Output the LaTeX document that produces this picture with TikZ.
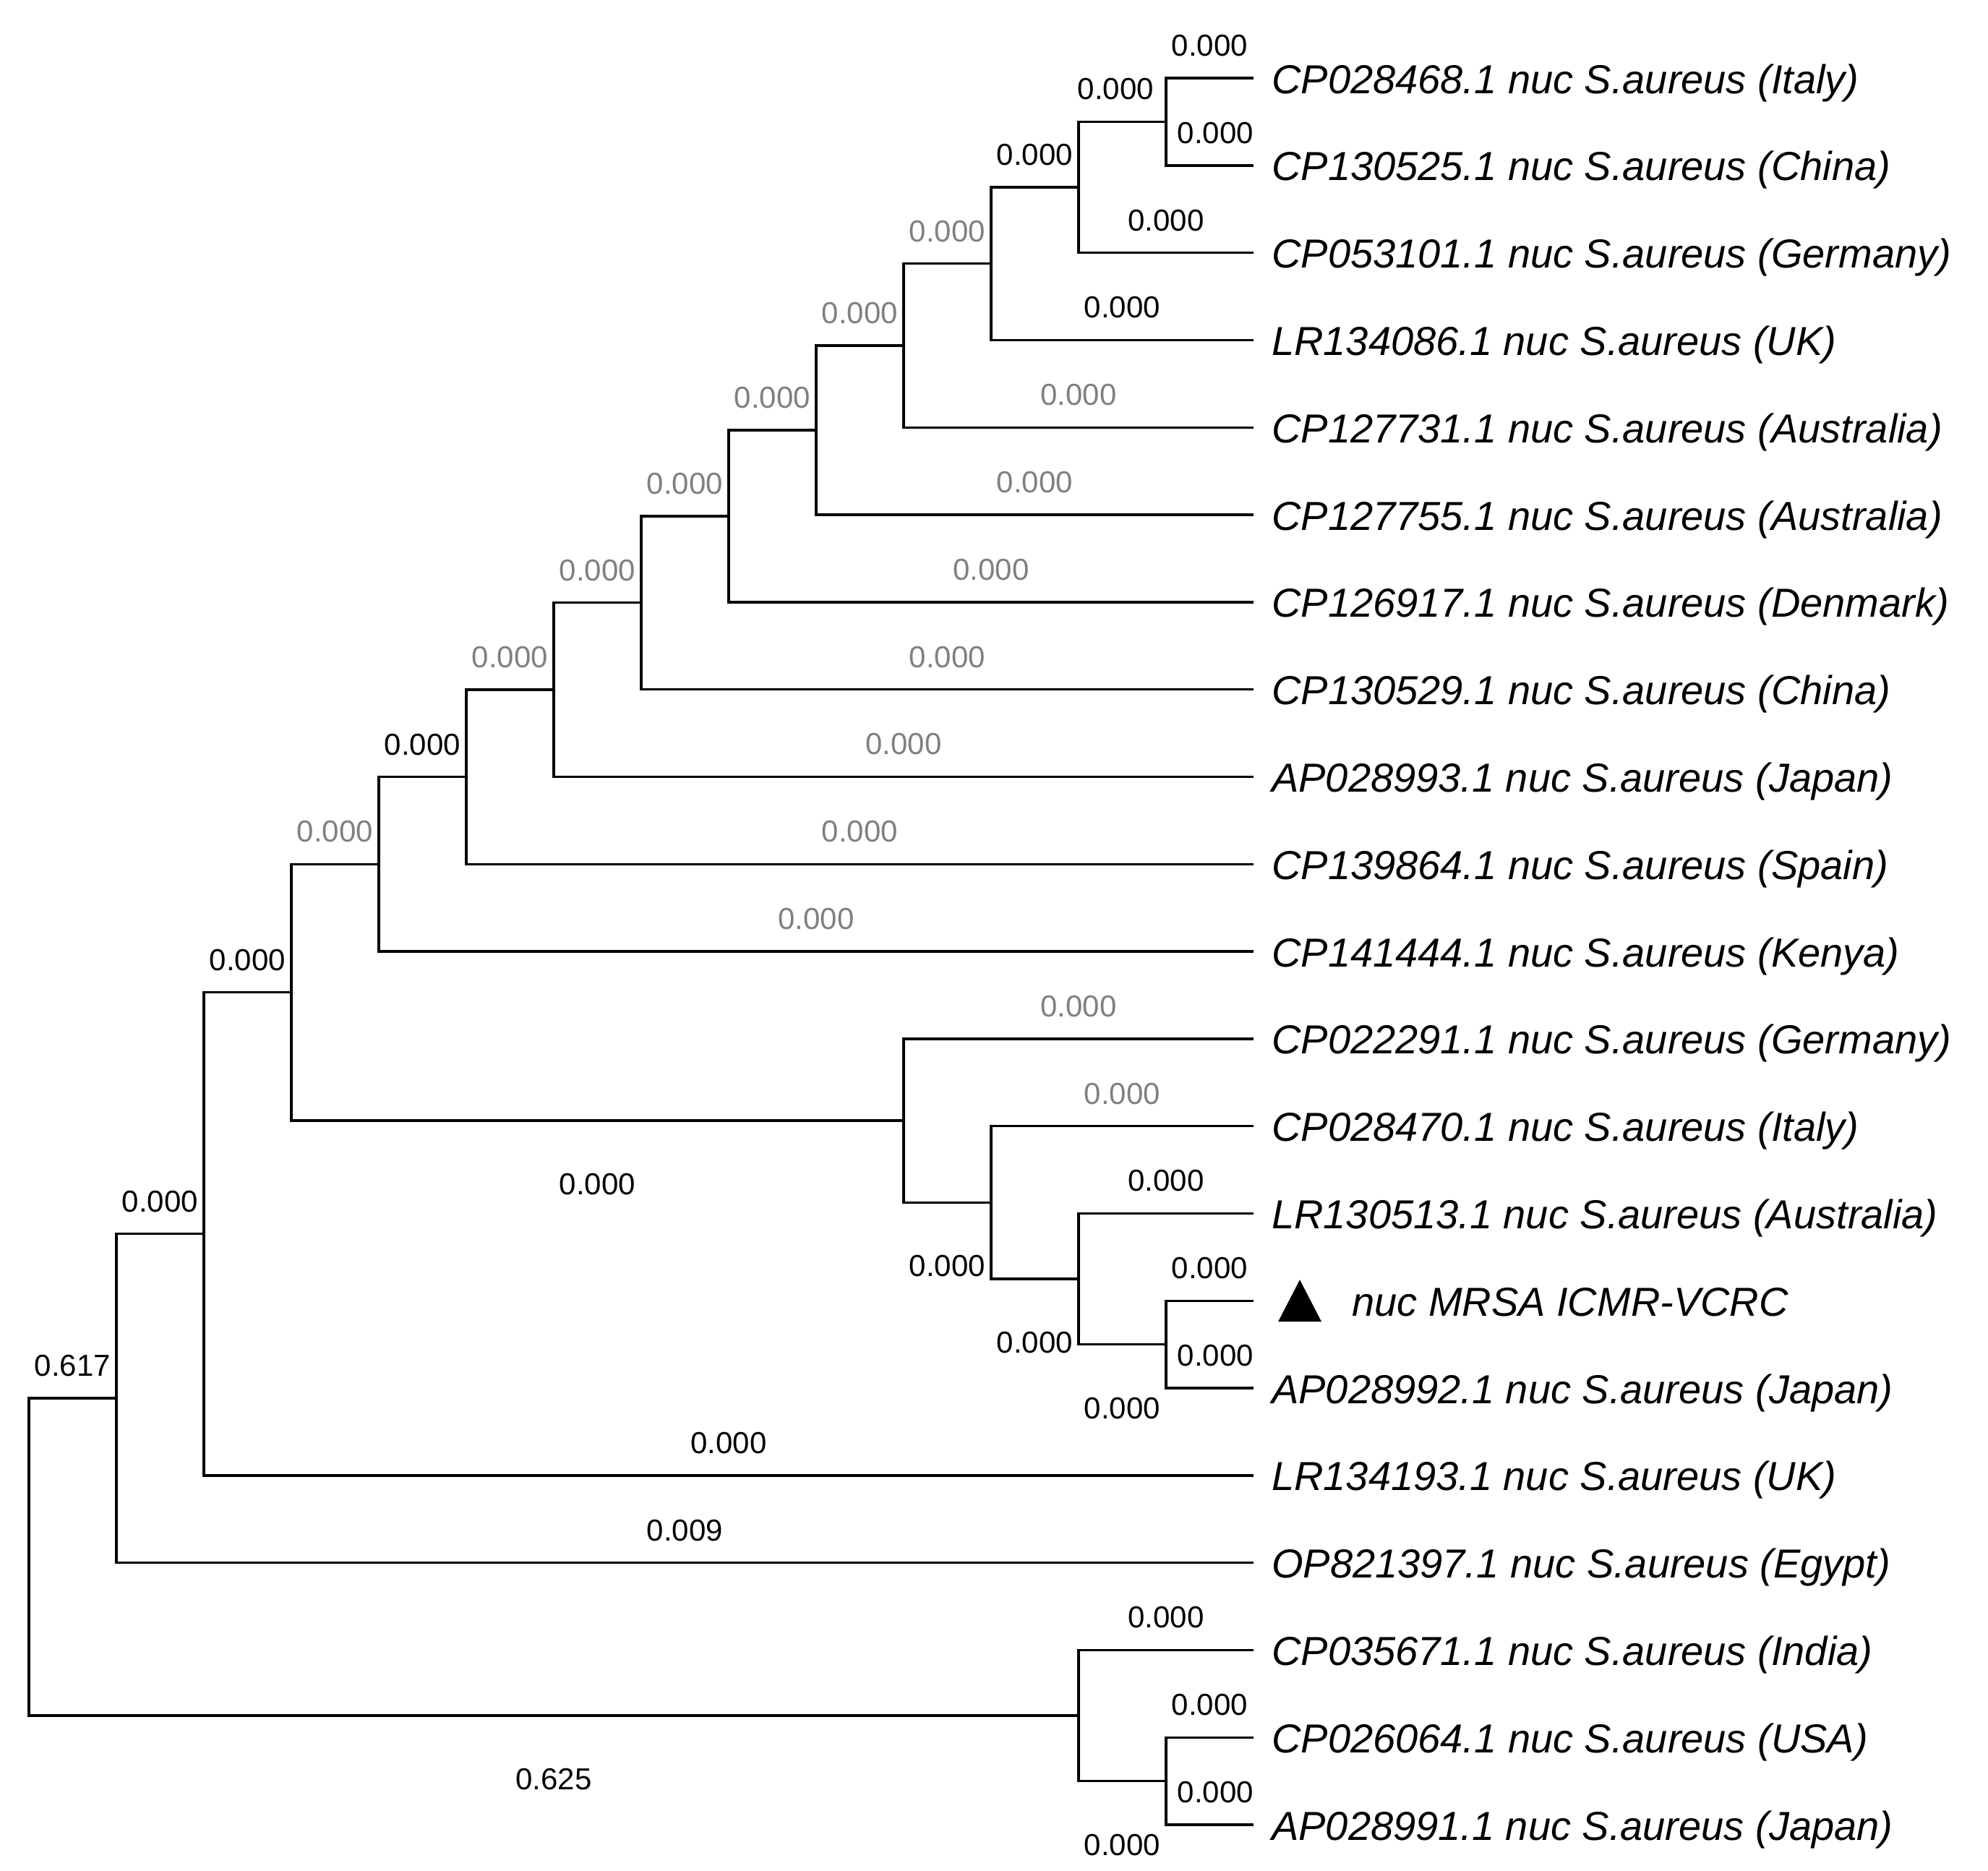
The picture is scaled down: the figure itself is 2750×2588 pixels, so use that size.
\documentclass[tikz,border=0pt]{standalone}
\usepackage{fontspec}
\setmainfont{Liberation Sans}
\usetikzlibrary{calc}
\definecolor{lgray}{RGB}{128,128,128}
\begin{document}
\begin{tikzpicture}[x=1pt,y=-1pt,
  br/.style={line width=3.4pt},
  leaf/.style={anchor=base west, inner sep=0pt, font=\fontsize{56}{60}\selectfont\itshape, xshift=25pt, yshift=-21pt},
  blab/.style={pos=0.75, inner sep=0pt, font=\fontsize{42}{44}\selectfont, text=black},
  labup/.style={blab, yshift=45pt},
  labdn/.style={blab, yshift=-88pt},
  gr/.style={text=lgray}]
\useasboundingbox (0,0) rectangle (2750,2588);
% leaf ends
\foreach \i in {0,...,20} \coordinate (e\i) at (1734,{108+120.8*\i});
% internal nodes
\coordinate (O) at (1613,168.4);
\coordinate (N) at (1492,259);
\coordinate (M) at (1371,364.7);
\coordinate (L) at (1250,477.95);
\coordinate (K) at (1129,594.98);
\coordinate (J) at (1008,713.89);
\coordinate (I) at (887,833.74);
\coordinate (H) at (766,954.07);
\coordinate (G) at (645,1074.64);
\coordinate (E) at (524,1195.32);
\coordinate (D) at (403,1372.69);
\coordinate (F) at (1250,1550.05);
\coordinate (P) at (1371,1663.3);
\coordinate (Q) at (1492,1769);
\coordinate (R) at (1613,1859.6);
\coordinate (C) at (282,1706.74);
\coordinate (A) at (161,1934.17);
\coordinate (S) at (1613,2463.6);
\coordinate (B) at (1492,2373);
\coordinate (root) at (40,2153.6);
% leaf labels
\node[leaf] (t0) at (e0) {CP028468.1 nuc S.aureus (Italy)};
\node[leaf] (t1) at (e1) {CP130525.1 nuc S.aureus (China)};
\node[leaf] (t2) at (e2) {CP053101.1 nuc S.aureus (Germany)};
\node[leaf] (t3) at (e3) {LR134086.1 nuc S.aureus (UK)};
\node[leaf] (t4) at (e4) {CP127731.1 nuc S.aureus (Australia)};
\node[leaf] (t5) at (e5) {CP127755.1 nuc S.aureus (Australia)};
\node[leaf] (t6) at (e6) {CP126917.1 nuc S.aureus (Denmark)};
\node[leaf] (t7) at (e7) {CP130529.1 nuc S.aureus (China)};
\node[leaf] (t8) at (e8) {AP028993.1 nuc S.aureus (Japan)};
\node[leaf] (t9) at (e9) {CP139864.1 nuc S.aureus (Spain)};
\node[leaf] (t10) at (e10) {CP141444.1 nuc S.aureus (Kenya)};
\node[leaf] (t11) at (e11) {CP022291.1 nuc S.aureus (Germany)};
\node[leaf] (t12) at (e12) {CP028470.1 nuc S.aureus (Italy)};
\node[leaf] (t13) at (e13) {LR130513.1 nuc S.aureus (Australia)};
\node[leaf, xshift=111pt] (t14) at (e14) {nuc MRSA ICMR-VCRC};
\node[leaf] (t15) at (e15) {AP028992.1 nuc S.aureus (Japan)};
\node[leaf] (t16) at (e16) {LR134193.1 nuc S.aureus (UK)};
\node[leaf] (t17) at (e17) {OP821397.1 nuc S.aureus (Egypt)};
\node[leaf] (t18) at (e18) {CP035671.1 nuc S.aureus (India)};
\node[leaf] (t19) at (e19) {CP026064.1 nuc S.aureus (USA)};
\node[leaf] (t20) at (e20) {AP028991.1 nuc S.aureus (Japan)};
% marker
\fill ($(e14)+(64,-29)$) -- ($(e14)+(94,29)$) -- ($(e14)+(34,29)$) -- cycle;
% branches
\draw[br] (O) |- (e0) node[labup]{0.000};
\draw[br] (O) |- (e1) node[labup, xshift=8pt]{0.000};
\draw[br] (N) |- (O) node[labup, xshift=-9pt]{0.000};
\draw[br] (N) |- (e2) node[labup]{0.000};
\draw[br] (M) |- (N) node[labup]{0.000};
\draw[br] (M) |- (e3) node[labup]{0.000};
\draw[br] (L) |- (M) node[labup,gr]{0.000};
\draw[br] (L) |- (e4) node[labup,gr]{0.000};
\draw[br] (K) |- (L) node[labup,gr]{0.000};
\draw[br] (K) |- (e5) node[labup,gr]{0.000};
\draw[br] (J) |- (K) node[labup,gr]{0.000};
\draw[br] (J) |- (e6) node[labup,gr]{0.000};
\draw[br] (I) |- (J) node[labup,gr]{0.000};
\draw[br] (I) |- (e7) node[labup,gr]{0.000};
\draw[br] (H) |- (I) node[labup,gr]{0.000};
\draw[br] (H) |- (e8) node[labup,gr]{0.000};
\draw[br] (G) |- (H) node[labup,gr]{0.000};
\draw[br] (G) |- (e9) node[labup,gr]{0.000};
\draw[br] (E) |- (G) node[labup]{0.000};
\draw[br] (E) |- (e10) node[labup,gr]{0.000};
\draw[br] (D) |- (E) node[labup,gr]{0.000};
\draw[br] (D) |- (F) node[labdn]{0.000};
\draw[br] (F) |- (e11) node[labup,gr]{0.000};
\draw[br] (F) |- (P) node[labdn]{0.000};
\draw[br] (P) |- (e12) node[labup,gr]{0.000};
\draw[br] (P) |- (Q) node[labdn]{0.000};
\draw[br] (Q) |- (e13) node[labup]{0.000};
\draw[br] (Q) |- (R) node[labdn]{0.000};
\draw[br] (R) |- (e14) node[labup]{0.000};
\draw[br] (R) |- (e15) node[labup, xshift=8pt]{0.000};
\draw[br] (C) |- (D) node[labup]{0.000};
\draw[br] (C) |- (e16) node[labup]{0.000};
\draw[br] (A) |- (C) node[labup]{0.000};
\draw[br] (A) |- (e17) node[labup]{0.009};
\draw[br] (root) |- (A) node[labup]{0.617};
\draw[br] (root) |- (B) node[labdn]{0.625};
\draw[br] (B) |- (e18) node[labup]{0.000};
\draw[br] (B) |- (S) node[labdn]{0.000};
\draw[br] (S) |- (e19) node[labup]{0.000};
\draw[br] (S) |- (e20) node[labup, xshift=8pt]{0.000};
\end{tikzpicture}
\end{document}
